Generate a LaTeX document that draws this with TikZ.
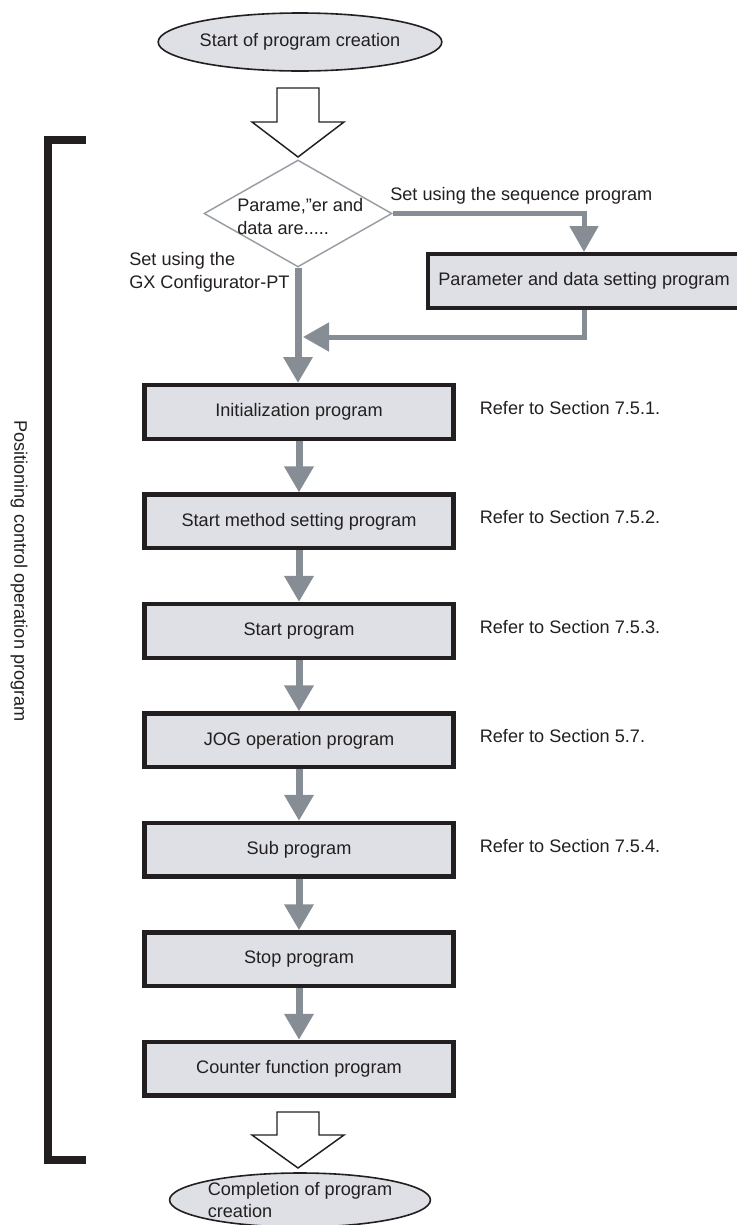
\documentclass[tikz,border=0pt]{standalone}
\usepackage{fontspec}
\setmainfont{Liberation Sans}
\usetikzlibrary{arrows.meta,positioning,shapes.geometric}

\definecolor{boxfill}{RGB}{222,224,229}
\definecolor{flowgray}{RGB}{134,141,148}
\definecolor{inkblack}{RGB}{35,31,32}

\begin{document}
\begin{tikzpicture}[
    x=0.75pt, y=-0.75pt,
    node distance=38.6pt,
    font=\fontsize{13.6}{17}\selectfont,
    every node/.style={text=inkblack},
    prog/.style={draw=inkblack, line width=3.3pt, fill=boxfill,
                 minimum width=231.5pt, minimum height=40.2pt, inner sep=0pt},
    terminal/.style={ellipse, draw=inkblack, line width=1.2pt, fill=boxfill,
                     minimum width=190.5pt, minimum height=43.5pt,
                     inner sep=0pt, align=left},
    decision/.style={diamond, draw=flowgray!85, line width=1.1pt, fill=white,
                     minimum width=141pt, minimum height=80.25pt, inner sep=0pt},
    note/.style={inner sep=0pt, align=left},
    stem/.style={-{Triangle[width=21pt,length=19.5pt]}, line width=5.25pt, draw=flowgray},
    branch/.style={stem, line width=3.75pt},
    hollow/.style={draw=inkblack, line width=1.1pt, fill=white, line join=miter}
  ]
  \useasboundingbox (0,0) rectangle (736,1225);

  \node[terminal] (begin) at (300,42) {Start of program creation};
  \node[decision] (dec) at (298,213.5) {};
  \node[note, anchor=west] (dectxt) at (237,216.5) {Parame,”er and\\data are.....};
  \node[prog, minimum width=233.7pt] (prm) at (584,281) {Parameter and data setting program};

  \node[prog] (init) at (299,412) {Initialization program};
  \node[prog, below=of init] (smeth) {Start method setting program};
  \node[prog, below=of smeth] (start) {Start program};
  \node[prog, below=of start] (jog) {JOG operation program};
  \node[prog, below=of jog] (sub) {Sub program};
  \node[prog, below=of sub] (stop) {Stop program};
  \node[prog, below=of stop] (cnt) {Counter function program};
  \node[terminal, minimum height=40.5pt] (done) at (300,1200) {Completion of program\\creation};

  % section references
  \node[note, right=18pt of init, yshift=3pt] (ref1) {Refer to Section 7.5.1.};
  \node[note, right=18pt of smeth, yshift=3pt] (ref2) {Refer to Section 7.5.2.};
  \node[note, right=18pt of start, yshift=3pt] (ref3) {Refer to Section 7.5.3.};
  \node[note, right=18pt of jog, yshift=3pt] (ref4) {Refer to Section 5.7.};
  \node[note, right=18pt of sub, yshift=3pt] (ref5) {Refer to Section 7.5.4.};

  \node[note, anchor=west] (seqlbl) at (390,196) {Set using the sequence program};
  \node[note, anchor=west] (gxlbl) at (129,272) {Set using the\\GX Configurator-PT};

  % bracket
  \draw[line width=6pt, inkblack, line join=miter] (86,140) -- (47.5,140) -- (47.5,1160) -- (86,1160);
  \node[rotate=-90] (grp) at (19,571) {Positioning control operation program};

  % hollow arrows
  \draw[hollow] (277,88) -- (319,88) -- (319,122) -- (344,122) -- (298,157)
                -- (252,122) -- (277,122) -- cycle;
  \draw[hollow] (277,1112) -- (319,1112) -- (319,1135) -- (344,1135) -- (298,1168)
                -- (252,1135) -- (277,1135) -- cycle;

  \coordinate (ret) at (303,337);
  \draw[branch] (dec.east) -| (prm.north);
  \draw[branch] (prm.south) |- (ret);
  \draw[stem] (dec.south) -- (dec.south |- init.north);

  \foreach \a/\b in {init/smeth, smeth/start, start/jog, jog/sub, sub/stop, stop/cnt}
    \draw[stem] (\a) -- (\b);

\end{tikzpicture}
\end{document}
